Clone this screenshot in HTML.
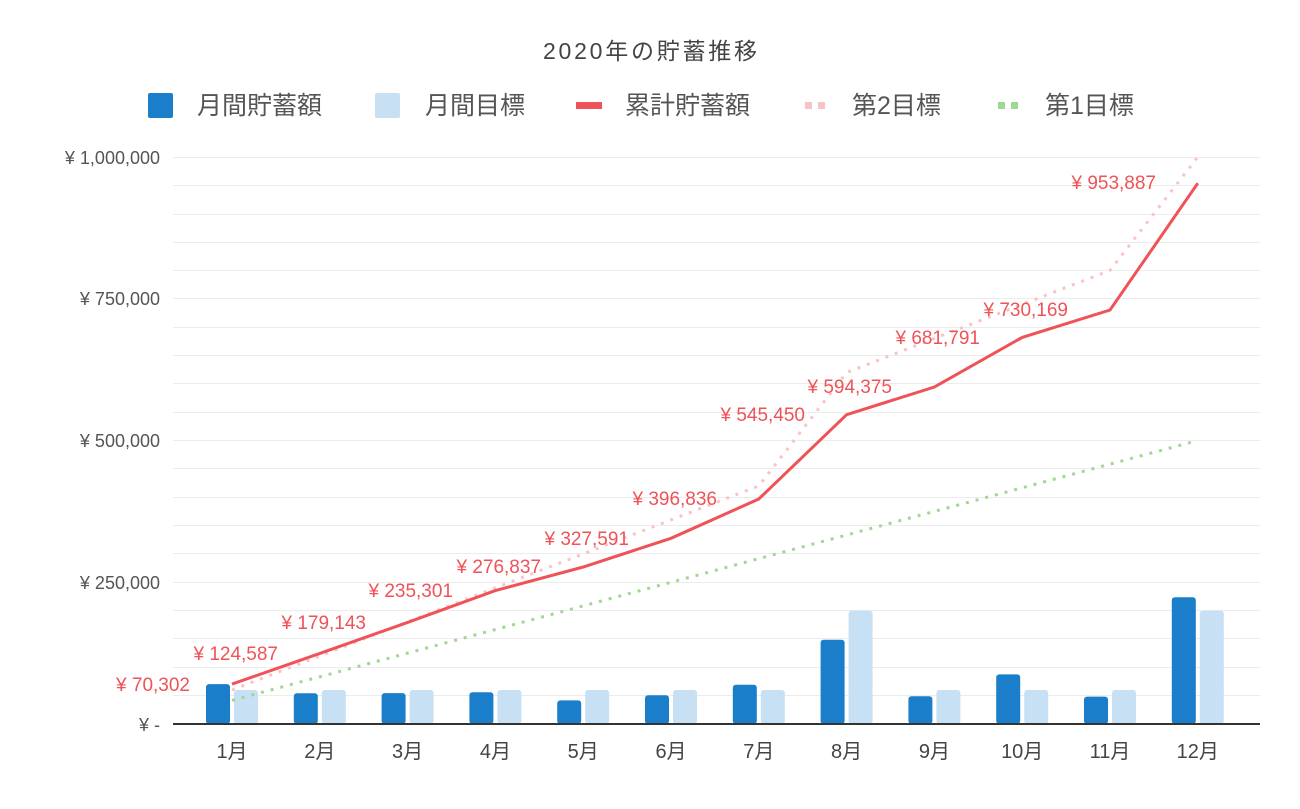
<!DOCTYPE html>
<html><head><meta charset="utf-8"><style>
body{margin:0;background:#fff;}
svg text{font-family:"Liberation Sans","Noto Sans CJK JP",sans-serif;}
</style></head><body>
<svg width="1300" height="804" viewBox="0 0 1300 804" xmlns="http://www.w3.org/2000/svg">
<text x="650" y="59" font-size="23" fill="#444" text-anchor="middle" textLength="214">2020年の貯蓄推移</text>
<!-- legend -->
<rect x="148" y="93" width="25" height="25" rx="2" fill="#1b7ecb"/>
<text x="197" y="114" font-size="25" fill="#555">月間貯蓄額</text>
<rect x="375" y="93" width="25" height="25" rx="2" fill="#c8e0f4"/>
<text x="425" y="114" font-size="25" fill="#555">月間目標</text>
<rect x="576" y="102" width="26" height="7" fill="#ef5257"/>
<text x="625" y="114" font-size="25" fill="#555">累計貯蓄額</text>
<g fill="#f9c3c4"><rect x="805" y="102" width="7" height="7"/><rect x="818" y="102" width="7" height="7"/></g>
<text x="852" y="114" font-size="25" fill="#555">第2目標</text>
<g fill="#9fd890"><rect x="998" y="102" width="7" height="7"/><rect x="1011" y="102" width="7" height="7"/></g>
<text x="1045" y="114" font-size="25" fill="#555">第1目標</text>
<!-- grid -->
<g stroke="#ececec" stroke-width="1">
<line x1="173" x2="1260" y1="157.5" y2="157.5"/><line x1="173" x2="1260" y1="185.5" y2="185.5"/><line x1="173" x2="1260" y1="214.5" y2="214.5"/><line x1="173" x2="1260" y1="242.5" y2="242.5"/><line x1="173" x2="1260" y1="270.5" y2="270.5"/>
<line x1="173" x2="1260" y1="298.5" y2="298.5"/><line x1="173" x2="1260" y1="327.5" y2="327.5"/><line x1="173" x2="1260" y1="355.5" y2="355.5"/><line x1="173" x2="1260" y1="383.5" y2="383.5"/><line x1="173" x2="1260" y1="412.5" y2="412.5"/>
<line x1="173" x2="1260" y1="440.5" y2="440.5"/><line x1="173" x2="1260" y1="468.5" y2="468.5"/><line x1="173" x2="1260" y1="497.5" y2="497.5"/><line x1="173" x2="1260" y1="525.5" y2="525.5"/><line x1="173" x2="1260" y1="553.5" y2="553.5"/>
<line x1="173" x2="1260" y1="582.5" y2="582.5"/><line x1="173" x2="1260" y1="610.5" y2="610.5"/><line x1="173" x2="1260" y1="638.5" y2="638.5"/><line x1="173" x2="1260" y1="667.5" y2="667.5"/><line x1="173" x2="1260" y1="695.5" y2="695.5"/>
</g>
<g font-size="18" fill="#555" text-anchor="end">
<text x="160" y="164">¥ 1,000,000</text><text x="160" y="305">¥ 750,000</text><text x="160" y="447">¥ 500,000</text><text x="160" y="589">¥ 250,000</text><text x="160" y="731">¥ -</text>
</g>
<!-- bars -->
<g fill="#1b7ecb">
<rect x="206" y="684.1" width="24" height="39.9" rx="3"/><rect x="293.8" y="693.2" width="24" height="30.8" rx="3"/><rect x="381.6" y="693.1" width="24" height="30.9" rx="3"/><rect x="469.4" y="692.2" width="24" height="31.8" rx="3"/><rect x="557.2" y="700.4" width="24" height="23.6" rx="3"/><rect x="645" y="695.2" width="24" height="28.8" rx="3"/><rect x="732.8" y="684.7" width="24" height="39.3" rx="3"/><rect x="820.6" y="639.7" width="24" height="84.3" rx="3"/><rect x="908.4" y="696.3" width="24" height="27.7" rx="3"/><rect x="996.2" y="674.4" width="24" height="49.6" rx="3"/><rect x="1084" y="696.6" width="24" height="27.4" rx="3"/><rect x="1171.8" y="597.2" width="24" height="126.8" rx="3"/>
</g>
<g fill="#c8e0f4">
<rect x="234" y="690" width="24" height="34" rx="3"/><rect x="321.8" y="690" width="24" height="34" rx="3"/><rect x="409.6" y="690" width="24" height="34" rx="3"/><rect x="497.4" y="690" width="24" height="34" rx="3"/><rect x="585.2" y="690" width="24" height="34" rx="3"/><rect x="673" y="690" width="24" height="34" rx="3"/><rect x="760.8" y="690" width="24" height="34" rx="3"/><rect x="848.6" y="610.6" width="24" height="113.4" rx="3"/><rect x="936.4" y="690" width="24" height="34" rx="3"/><rect x="1024.2" y="690" width="24" height="34" rx="3"/><rect x="1112" y="690" width="24" height="34" rx="3"/><rect x="1199.8" y="610.6" width="24" height="113.4" rx="3"/>
</g>
<line x1="173" x2="1260" y1="724" y2="724" stroke="#333" stroke-width="2"/>
<!-- lines -->
<polyline fill="none" stroke="#9fd890" stroke-width="3" stroke-dasharray="3 7" points="232,700.4 319.8,676.8 407.6,653.1 495.4,629.5 583.2,605.9 671,582.3 758.8,558.6 846.6,535 934.4,511.4 1022.2,487.8 1110,464.1 1197.8,440.5"/>
<polyline fill="none" stroke="#f9c3c4" stroke-width="3" stroke-dasharray="3 7" points="232,690 319.8,656 407.6,621.9 495.4,587.9 583.2,553.9 671,519.9 758.8,485.9 846.6,372.5 934.4,338.4 1022.2,304.4 1110,270.4 1197.8,157"/>
<polyline fill="none" stroke="#ef5257" stroke-width="3" points="232,684.1 319.8,653.4 407.6,622.4 495.4,590.6 583.2,567 671,538.3 758.8,499 846.6,414.7 934.4,387 1022.2,337.4 1110,310 1197.8,183.2"/>
<!-- labels -->
<g font-size="19" fill="#ef5257" text-anchor="end">
<text x="190" y="691">¥ 70,302</text><text x="278" y="660">¥ 124,587</text><text x="366" y="629">¥ 179,143</text><text x="453" y="597">¥ 235,301</text><text x="541" y="573">¥ 276,837</text><text x="629" y="545">¥ 327,591</text><text x="717" y="505">¥ 396,836</text><text x="805" y="421">¥ 545,450</text><text x="892" y="393">¥ 594,375</text><text x="980" y="344">¥ 681,791</text><text x="1068" y="316">¥ 730,169</text><text x="1156" y="189">¥ 953,887</text>
</g>
<g font-size="20" fill="#444" text-anchor="middle">
<text x="232" y="758">1月</text><text x="319.8" y="758">2月</text><text x="407.6" y="758">3月</text><text x="495.4" y="758">4月</text><text x="583.2" y="758">5月</text><text x="671" y="758">6月</text><text x="758.8" y="758">7月</text><text x="846.6" y="758">8月</text><text x="934.4" y="758">9月</text><text x="1022.2" y="758">10月</text><text x="1110" y="758">11月</text><text x="1197.8" y="758">12月</text>
</g>
</svg>
</body></html>
